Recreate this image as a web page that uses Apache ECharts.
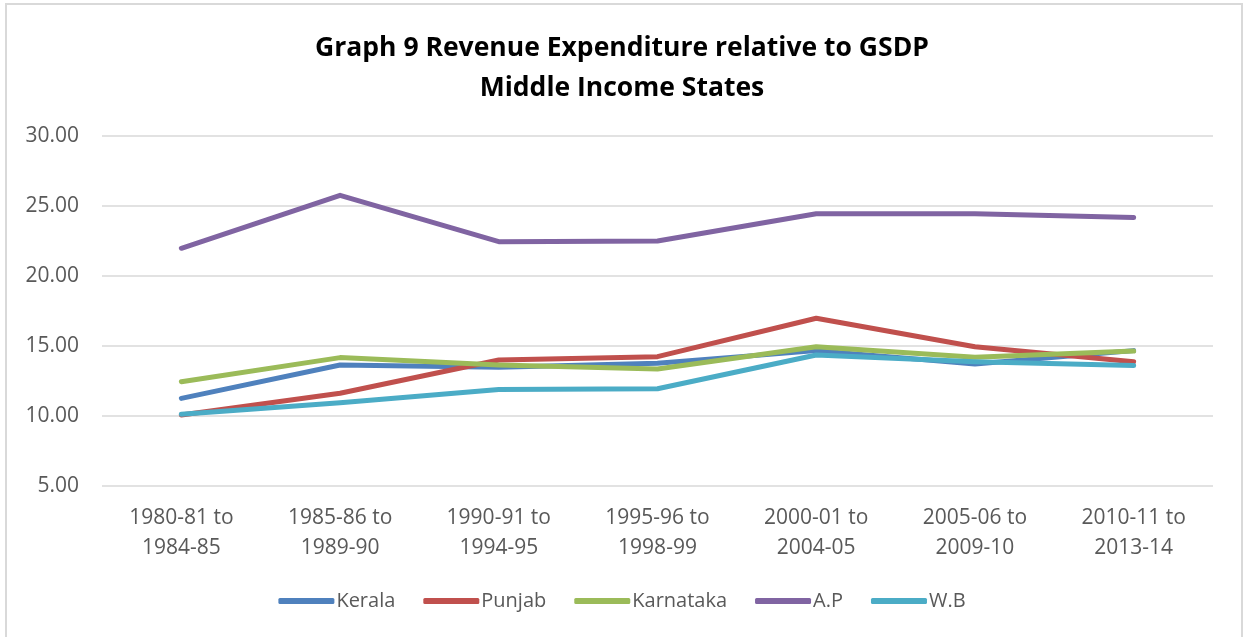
<!DOCTYPE html>
<html>
<head>
<meta charset="utf-8">
<script src="https://cdn.jsdelivr.net/npm/echarts@6/dist/echarts.min.js"></script>
<style>
  html, body { margin: 0; padding: 0; background: #fff; }
  #chart { width: 1244px; height: 637px; }
</style>
</head>
<body>
<div id="chart"></div>
<script>
// Revenue expenditure as % of GSDP, five-year period averages
const periods = [
  '1980-81 to\n1984-85', '1985-86 to\n1989-90', '1990-91 to\n1994-95',
  '1995-96 to\n1998-99', '2000-01 to\n2004-05', '2005-06 to\n2009-10',
  '2010-11 to\n2013-14'
];
const kerala    = [11.26, 13.64, 13.48, 13.76, 14.67, 13.71, 14.67];
const punjab    = [10.07, 11.62, 14.00, 14.24, 16.98, 14.95, 13.88];
const karnataka = [12.45, 14.17, 13.64, 13.36, 14.95, 14.19, 14.64];
const andhra    = [21.98, 25.76, 22.45, 22.50, 24.45, 24.45, 24.17];
const bengal    = [10.12, 10.95, 11.90, 11.95, 14.36, 13.88, 13.60];
const yTicks = { min: 5, max: 30, step: 5 };

const font = "'Open Sans', 'Noto Sans', sans-serif";
const names = ['Kerala', 'Punjab', 'Karnataka', 'A.P', 'W.B'];
const colors = ['#4f81bd', '#c0504d', '#9bbb59', '#8064a2', '#4bacc6'];
const values = [kerala, punjab, karnataka, andhra, bengal];

const chart = echarts.init(document.getElementById('chart'), null, { renderer: 'canvas' });
chart.setOption({
  backgroundColor: '#fff',
  animation: false,
  color: colors,
  title: {
    text: 'Graph 9 Revenue Expenditure relative to GSDP\nMiddle Income States',
    left: 'center',
    top: 23,
    textStyle: {
      fontFamily: font,
      fontWeight: 'bold',
      fontSize: 26.5,
      lineHeight: 40,
      color: '#000'
    }
  },
  graphic: [{
    type: 'rect',
    shape: { x: 6, y: 4, width: 1236, height: 660 },
    style: { fill: 'none', stroke: '#d9d9d9', lineWidth: 2 },
    silent: true
  }],
  grid: { left: 102, right: 31, top: 136, bottom: 151 },
  legend: {
    bottom: 21,
    left: 'center',
    itemWidth: 56,
    itemHeight: 6,
    itemGap: 28,
    icon: 'roundRect',
    textStyle: { fontFamily: font, fontSize: 20, color: '#595959', padding: [0, 0, 0, -3] },
    data: names
  },
  xAxis: {
    type: 'category',
    data: periods,
    boundaryGap: true,
    axisLine: { show: false },
    axisTick: { show: false },
    axisLabel: {
      margin: 17,
      fontFamily: font,
      fontSize: 21,
      lineHeight: 30,
      color: '#595959',
      interval: 0
    }
  },
  yAxis: {
    type: 'value',
    min: yTicks.min,
    max: yTicks.max,
    interval: yTicks.step,
    axisLine: { show: false },
    axisTick: { show: false },
    splitLine: { lineStyle: { color: '#d9d9d9', width: 1.5 } },
    axisLabel: {
      margin: 23,
      fontFamily: font,
      fontSize: 21,
      color: '#595959',
      formatter: v => v.toFixed(2)
    }
  },
  series: names.map((n, i) => ({
    name: n,
    type: 'line',
    data: values[i],
    symbol: 'none',
    lineStyle: { width: 5, color: colors[i], cap: 'round', join: 'round' },
    itemStyle: { color: colors[i] }
  }))
});
</script>
</body>
</html>
